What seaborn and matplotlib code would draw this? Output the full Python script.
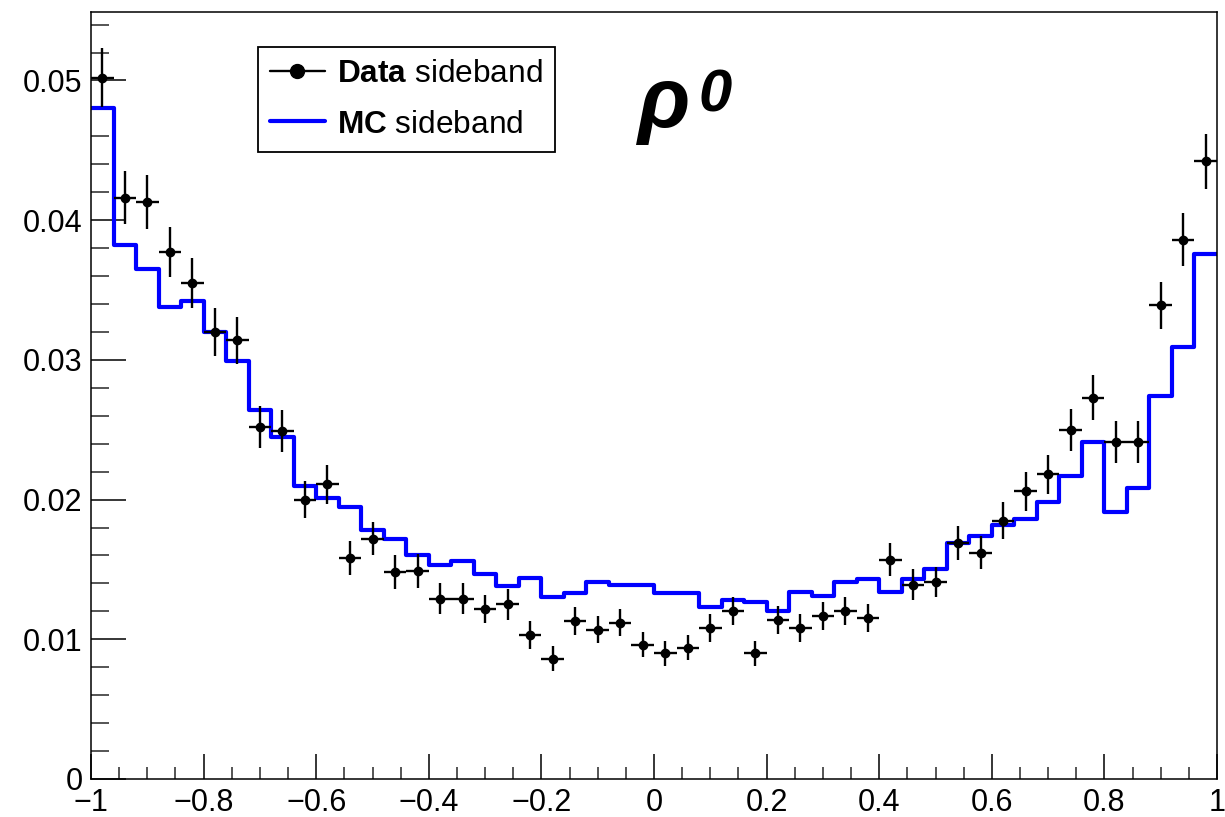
import numpy as np
import pandas as pd
import matplotlib
matplotlib.use("Agg")
import matplotlib.pyplot as plt
from matplotlib.lines import Line2D
from matplotlib.ticker import MultipleLocator, FuncFormatter
import seaborn as sns

# Angular distribution, sideband events, 50 bins in [-1, 1]
x_range = (-1.0, 1.0)
n_bins = 50

data_vals = [0.0502, 0.0416, 0.0413, 0.0377, 0.0355, 0.0320, 0.0314, 0.0252, 0.0249, 0.0200,
             0.0211, 0.0158, 0.0172, 0.0148, 0.0149, 0.0129, 0.0129, 0.0122, 0.0125, 0.0103,
             0.0086, 0.0113, 0.0107, 0.0112, 0.0096, 0.0090, 0.0094, 0.0108, 0.0120, 0.0090,
             0.0114, 0.0108, 0.0117, 0.0120, 0.0115, 0.0157, 0.0139, 0.0141, 0.0169, 0.0162,
             0.0185, 0.0206, 0.0218, 0.0250, 0.0273, 0.0241, 0.0241, 0.0339, 0.0386, 0.0442]

data_errs = [0.0021, 0.0019, 0.0019, 0.0018, 0.0018, 0.0017, 0.0017, 0.0015, 0.0015, 0.0013,
             0.0014, 0.0012, 0.0012, 0.0012, 0.0012, 0.0011, 0.0011, 0.0010, 0.0011, 0.0010,
             0.0009, 0.0010, 0.0010, 0.0010, 0.0009, 0.0009, 0.0009, 0.0010, 0.0010, 0.0009,
             0.0010, 0.0010, 0.0010, 0.0010, 0.0010, 0.0012, 0.0011, 0.0011, 0.0012, 0.0012,
             0.0013, 0.0014, 0.0014, 0.0015, 0.0016, 0.0015, 0.0015, 0.0017, 0.0019, 0.0020]

mc_vals = [0.0480, 0.0382, 0.0365, 0.0338, 0.0342, 0.0320, 0.0299, 0.0264, 0.0245, 0.0210,
           0.0201, 0.0195, 0.0178, 0.0172, 0.0160, 0.0153, 0.0156, 0.0147, 0.0138, 0.0144,
           0.0130, 0.0133, 0.0141, 0.0139, 0.0139, 0.0133, 0.0133, 0.0123, 0.0128, 0.0127,
           0.0120, 0.0134, 0.0131, 0.0141, 0.0143, 0.0134, 0.0143, 0.0150, 0.0169, 0.0174,
           0.0182, 0.0186, 0.0198, 0.0217, 0.0241, 0.0191, 0.0208, 0.0274, 0.0309, 0.0376]

legend_labels = [r"$\mathbf{Data}$ sideband", r"$\mathbf{MC}$ sideband"]
x_ticks = [-1, -0.8, -0.6, -0.4, -0.2, 0, 0.2, 0.4, 0.6, 0.8, 1]
y_ticks = [0, 0.01, 0.02, 0.03, 0.04, 0.05]

sns.set_theme(style="ticks")
plt.rcParams["font.family"] = ["Liberation Sans", "DejaVu Sans"]
plt.rcParams["text.color"] = "black"
plt.rcParams["mathtext.fontset"] = "custom"
plt.rcParams["mathtext.rm"] = "Liberation Sans"
plt.rcParams["mathtext.bf"] = "Liberation Sans:bold"
plt.rcParams["mathtext.it"] = "Liberation Sans:italic"

edges = np.linspace(x_range[0], x_range[1], n_bins + 1)
centers = 0.5 * (edges[:-1] + edges[1:])
half_w = 0.5 * (edges[1] - edges[0])
mc_df = pd.DataFrame({"center": centers, "mc": mc_vals})

fig = plt.figure(figsize=(12.25, 8.17), dpi=100)
ax = fig.add_axes([91 / 1225, 1 - 779 / 817, 1126 / 1225, 767 / 817])

# MC histogram as a step outline
sns.histplot(data=mc_df, x="center", weights="mc", bins=n_bins, binrange=x_range,
             element="step", fill=False, color="#0000ff", linewidth=3.0, ax=ax, zorder=2)

# Data points with statistical errors
ax.errorbar(centers, data_vals, yerr=data_errs, xerr=half_w, fmt="o", color="black",
            ecolor="black", elinewidth=1.7, markersize=6, capsize=0, zorder=3)

ax.set_xlim(*x_range)
ax.set_ylim(0, 0.0549)
ax.set_xlabel("")
ax.set_ylabel("")

ax.set_xticks(x_ticks)
ax.set_yticks(y_ticks)
ax.xaxis.set_minor_locator(MultipleLocator(0.05))
ax.yaxis.set_minor_locator(MultipleLocator(0.002))


def fmt_tick(v, _pos):
    if abs(v) < 1e-12:
        return "0"
    s = f"{v:g}"
    return s.replace("-", "\u2212")


ax.xaxis.set_major_formatter(FuncFormatter(fmt_tick))
ax.yaxis.set_major_formatter(FuncFormatter(fmt_tick))

ax.tick_params(axis="x", which="major", direction="in", length=18, width=1.1,
               labelsize=22, pad=6.5, colors="black", top=False)
ax.tick_params(axis="x", which="minor", direction="in", length=8.6, width=1.1, top=False)
ax.tick_params(axis="y", which="major", direction="in", length=25, width=1.1,
               labelsize=22, pad=6, colors="black", right=False)
ax.tick_params(axis="y", which="minor", direction="in", length=13, width=1.1, right=False)

for side in ["left", "right", "top", "bottom"]:
    ax.spines[side].set_visible(True)
    ax.spines[side].set_color("black")
    ax.spines[side].set_linewidth(1.1)
    ax.spines[side].set_zorder(5)

handles = [
    Line2D([0], [0], color="black", lw=1.7, marker="o", markersize=10),
    Line2D([0], [0], color="#0000ff", lw=3.0),
]
leg = ax.legend(handles, legend_labels, loc="upper left", bbox_to_anchor=(0.148, 0.954),
                borderaxespad=0, fontsize=22.8, frameon=True, fancybox=False, shadow=False,
                numpoints=1, handlelength=1.74, handletextpad=0.38, labelspacing=0.64,
                borderpad=0.38, labelcolor="black")
leg.get_frame().set_edgecolor("black")
leg.get_frame().set_linewidth(1.3)
leg.get_frame().set_facecolor("white")
leg.get_frame().set_alpha(1)

# Particle label
fig.text(638 / 1225, 1 - 127 / 817, "\u03c1", fontsize=62, fontweight="bold",
         fontstyle="italic", va="baseline", ha="left", color="black")
fig.text(699 / 1225, 1 - 111 / 817, "0", fontsize=43, fontweight="bold",
         fontstyle="italic", va="baseline", ha="left", color="black")

fig.savefig("out.png", dpi=100)
